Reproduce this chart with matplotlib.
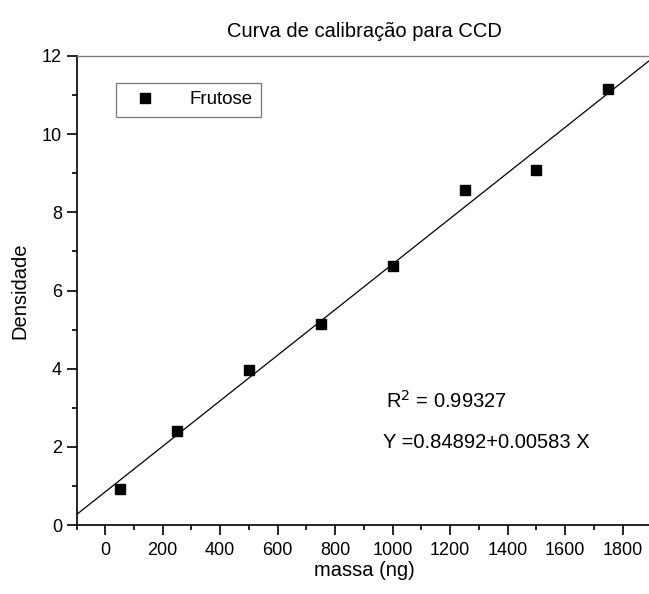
import matplotlib.pyplot as plt
from matplotlib.ticker import MultipleLocator

plt.rcParams['font.family'] = ['Liberation Sans', 'DejaVu Sans']

# calibration standards (mass in ng) and measured density
massa = [50, 250, 500, 750, 1000, 1250, 1500, 1750]
densidade = [0.92, 2.40, 3.97, 5.15, 6.62, 8.58, 9.08, 11.16]

# linear fit coefficients
intercept = 0.84892
slope = 0.00583
r2 = 0.99327
fit_x = [-100, 1900]

fig = plt.figure(figsize=(6.49, 5.94), dpi=100)
ax = fig.add_axes([76.5 / 649, 69 / 594, 575 / 649, 469 / 594])

ax.plot(massa, densidade, 's', color='black', markersize=6.5, label='Frutose', zorder=3)
ax.plot(fit_x, [intercept + slope * x for x in fit_x], color='black', linewidth=0.9)

ax.set_xlim(-100, 1900)
ax.set_ylim(0, 12)
ax.xaxis.set_major_locator(MultipleLocator(200))
ax.xaxis.set_minor_locator(MultipleLocator(100))
ax.yaxis.set_major_locator(MultipleLocator(2))
ax.yaxis.set_minor_locator(MultipleLocator(1))
ax.tick_params(which='major', direction='out', length=7, width=1.2, labelsize=13)
ax.tick_params(axis='y', which='major', pad=3.5)
ax.tick_params(axis='x', which='major', pad=5)
ax.tick_params(which='minor', direction='out', length=3.5, width=1.2)

ax.spines['left'].set_linewidth(1.2)
ax.spines['bottom'].set_linewidth(1.2)
ax.spines['top'].set_color('#808080')
ax.spines['top'].set_linewidth(1.0)
ax.spines['right'].set_visible(False)

ax.set_xlabel('massa (ng)', fontsize=14.5, labelpad=2)
ax.set_ylabel('Densidade', fontsize=14.5, labelpad=9)
ax.set_title('Curva de calibração para CCD', fontsize=14.5, pad=14)

leg = ax.legend(loc='upper left', bbox_to_anchor=(0.068, 0.943), fontsize=13.5,
                frameon=True, fancybox=False, edgecolor='#555555',
                handlelength=2.2, handletextpad=1.3, borderpad=0.45,
                borderaxespad=0)
leg.get_frame().set_linewidth(0.9)

ax.text(975, 3.17, r'R$^2$ = ' + f'{r2:.5f}', fontsize=14.5, va='center')
ax.text(965, 2.12, f'Y ={intercept:.5f}+{slope:.5f} X', fontsize=14.5, va='center')

fig.savefig('out.png', dpi=100)
